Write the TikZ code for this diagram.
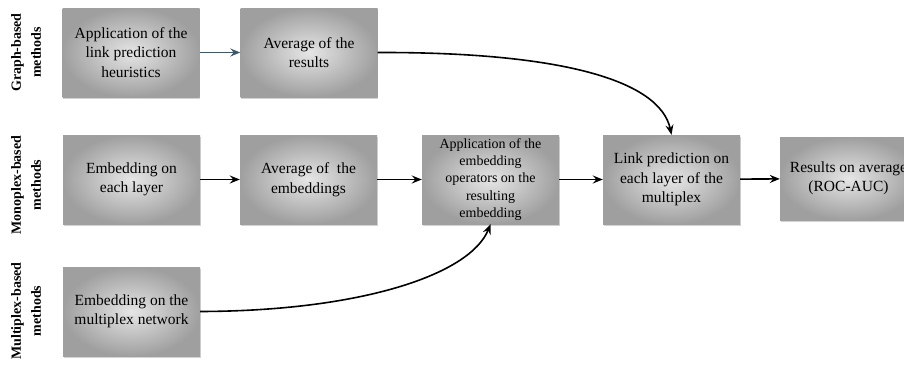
\documentclass[tikz,border=0pt]{standalone}
\usepackage{fontspec}
\setmainfont{Liberation Serif}
\usetikzlibrary{arrows.meta,shadows}
\begin{document}
\begin{tikzpicture}[x=1pt,y=-1pt,
  box/.style={rectangle, minimum width=137pt, minimum height=89pt, inner sep=2pt,
    shading=radial, inner color=gray!20, outer color=gray!75,
    drop shadow={shadow xshift=0.8pt, shadow yshift=-1.5pt, opacity=0.35, fill=gray},
    align=center, font=\fontsize{15.5}{19.5}\selectfont},
  lbl/.style={rotate=90, align=center, font=\bfseries\fontsize{14}{20}\selectfont},
  conn/.style={-{Stealth[length=10pt,width=8pt,inset=3.5pt]}, line width=1.6pt, black},
  connb/.style={conn, draw={rgb,255:red,62;green,88;blue,104}}]
\useasboundingbox (0,0) rectangle (904,364);
\begin{scope}
\clip (0,0) rectangle (904,364);
\node[lbl] (l1) at (26,52.5) {Graph-based\\methods};
\node[lbl] (l2) at (26,185) {Monoplex-based\\methods};
\node[lbl] (l3) at (26,311) {Multiplex-based\\methods};

\node[box] (A) at (131,52.5) {Application of the\\link prediction\\heuristics};
\node[box] (B) at (309,52.5) {Average of the\\results};
\node[box] (C) at (131.5,179.5) {Embedding on\\each layer};
\node[box] (D) at (308.5,179.5) {Average of\ \ the\\embeddings};
\node[box, font=\fontsize{14}{17.3}\selectfont] (E) at (490.5,179.5) {Application of the\\embedding\\operators on the\\resulting\\embedding};
\node[box] (F) at (671.5,179.5) {Link prediction on\\each layer of the\\multiplex};
\node[box, minimum height=83pt] (G) at (848.5,178.5) {Results on average\\(ROC-AUC)};
\node[box] (H) at (131.5,311.5) {Embedding on the\\multiplex network};

\draw[connb] (A) -- (B);
\draw[conn] (C) -- (D);
\draw[conn] (D) -- (E);
\draw[conn] (E) -- (F);
\draw[conn] (F) -- (G);
\draw[conn] (B.east) .. controls (560,52) and (660,80) .. (F.north);
\draw[conn] (H.east) .. controls (360,311) and (470,275) .. (E.south);
\end{scope}
\end{tikzpicture}
\end{document}
